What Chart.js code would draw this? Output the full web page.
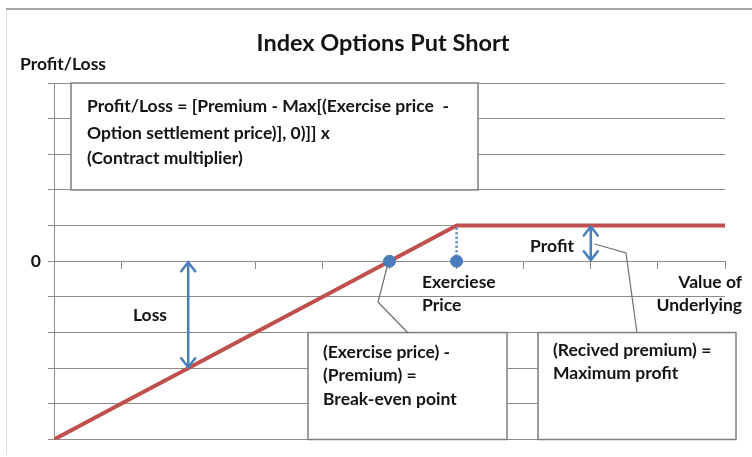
<!DOCTYPE html>
<html>
<head>
<meta charset="utf-8">
<script src="https://cdn.jsdelivr.net/npm/chart.js@4.4.1/dist/chart.umd.min.js"></script>
<style>
  html, body { margin: 0; padding: 0; background: #fff; }
  #wrap { width: 752px; height: 457px; }
</style>
</head>
<body>
<div id="wrap"><canvas id="putShort" width="752" height="457"></canvas></div>
<script>
// Données du graphique
const underlying = [0, 1, 2, 3, 4, 5, 6, 7, 8, 9, 10];
const payoff = [-5, -4, -3, -2, -1, 0, 1, 1, 1, 1, 1];
const markerX = [5, 6];
const markerY = [0, 0];
const exerciseLineX = [6, 6];
const exerciseLineY = [0, 1];
const lossArrowX = 2;
const profitArrowX = 8;

const titleText = 'Index Options Put Short';
const yTitleText = 'Profit/Loss';
const formulaLines = ['Profit/Loss = [Premium - Max[(Exercise price  -', 'Option settlement price)], 0)]] x', '(Contract multiplier)'];
const breakEvenLines = ['(Exercise price) -', '(Premium) =', 'Break-even point'];
const maxProfitLines = ['(Recived premium) =', 'Maximum profit'];

const RED = '#c0504d';
const BLUE = '#4a7ebb';
const GRID = '#8c8c8c';
const TXT = '#141414';
const FONT = 'Lato, "Open Sans", sans-serif';
const FS = 17.5;

function text(ctx, str, x, y, size, align) {
    ctx.save();
    ctx.font = 'bold ' + size + 'px ' + FONT;
    ctx.fillStyle = TXT;
    ctx.textAlign = align || 'left';
    ctx.textBaseline = 'middle';
    ctx.fillText(str, x, y);
    ctx.restore();
}

function box(ctx, x1, y1, x2, y2) {
    ctx.save();
    ctx.fillStyle = '#fff';
    ctx.fillRect(x1, y1, x2 - x1, y2 - y1);
    ctx.strokeStyle = '#7f7f7f';
    ctx.lineWidth = 1.5;
    ctx.strokeRect(x1, y1, x2 - x1, y2 - y1);
    ctx.restore();
}

function arrow(ctx, x, ya, yb) {
    const top = Math.min(ya, yb), bot = Math.max(ya, yb);
    ctx.save();
    ctx.strokeStyle = BLUE;
    ctx.lineWidth = 2.5;
    ctx.lineCap = 'round';
    ctx.beginPath();
    ctx.moveTo(x, top + 1);
    ctx.lineTo(x, bot - 1);
    ctx.moveTo(x - 7, top + 10);
    ctx.lineTo(x, top + 1);
    ctx.lineTo(x + 7, top + 10);
    ctx.moveTo(x - 7, bot - 10);
    ctx.lineTo(x, bot - 1);
    ctx.lineTo(x + 7, bot - 10);
    ctx.stroke();
    ctx.restore();
}

function polyline(ctx, pts) {
    ctx.save();
    ctx.strokeStyle = '#6f6f6f';
    ctx.lineWidth = 1.2;
    ctx.beginPath();
    ctx.moveTo(pts[0][0], pts[0][1]);
    for (let i = 1; i < pts.length; i++) ctx.lineTo(pts[i][0], pts[i][1]);
    ctx.stroke();
    ctx.restore();
}

const decorations = {
    id: 'decorations',
    beforeDraw(chart) {
        const ctx = chart.ctx;
        ctx.save();
        ctx.fillStyle = '#fff';
        ctx.fillRect(0, 0, chart.width, chart.height);
        ctx.strokeStyle = '#dadada';
        ctx.lineWidth = 1;
        ctx.beginPath();
        ctx.moveTo(6.5, 9);
        ctx.lineTo(6.5, 455);
        ctx.stroke();
        ctx.strokeStyle = '#a6a6a6';
        ctx.lineWidth = 2;
        ctx.beginPath();
        ctx.moveTo(6, 9);
        ctx.lineTo(752, 9);
        ctx.stroke();
        ctx.restore();
    },
    beforeDatasetsDraw(chart) {
        const ctx = chart.ctx;
        const ys = chart.scales.y;
        // encadrés
        box(ctx, 71, ys.getPixelForValue(5), 478, ys.getPixelForValue(2));
        box(ctx, 308, ys.getPixelForValue(-2), 507, ys.getPixelForValue(-5));
        box(ctx, 538, ys.getPixelForValue(-2), 736, ys.getPixelForValue(-5));
    },
    afterDatasetsDraw(chart) {
        const ctx = chart.ctx;
        const xs = chart.scales.x, ys = chart.scales.y;
        const y0 = ys.getPixelForValue(0);

        text(ctx, titleText, 383, 43, 23.5, 'center');
        text(ctx, yTitleText, 20, 64, FS);

        formulaLines.forEach((l, i) => text(ctx, l, 87, [106, 133, 158][i], FS));
        breakEvenLines.forEach((l, i) => text(ctx, l, 323, 352 + i * 23.5, FS));
        maxProfitLines.forEach((l, i) => text(ctx, l, 553, 350 + i * 23.5, FS));

        // flèches perte / profit
        const lx = xs.getPixelForValue(lossArrowX);
        arrow(ctx, lx, y0, ys.getPixelForValue(payoff[lossArrowX]));
        const px = xs.getPixelForValue(profitArrowX);
        arrow(ctx, px, y0, ys.getPixelForValue(payoff[profitArrowX]));
        text(ctx, 'Loss', 150, 315, FS, 'center');
        text(ctx, 'Profit', 552, 246, FS, 'center');

        text(ctx, 'Exerciese', 422, 282, FS);
        text(ctx, 'Price', 422, 305, FS);
        text(ctx, 'Value of', 742, 282, FS, 'right');
        text(ctx, 'Underlying', 742, 305, FS, 'right');

        // lignes de rappel
        const bx = xs.getPixelForValue(markerX[0]);
        polyline(ctx, [[bx - 2, y0 + 4], [378, 302], [408, 333]]);
        polyline(ctx, [[px + 4, 244], [626, 253], [637, 333]]);
    }
};

new Chart(document.getElementById('putShort'), {
    type: 'line',
    data: {
        datasets: [
            {
                label: 'Payoff',
                data: underlying.map((x, i) => ({ x: x, y: payoff[i] })),
                borderColor: RED,
                borderWidth: 4,
                pointRadius: 0,
                tension: 0,
                order: 3
            },
            {
                label: 'Exercise',
                data: exerciseLineX.map((x, i) => ({ x: x, y: exerciseLineY[i] })),
                borderColor: BLUE,
                borderWidth: 2.5,
                borderDash: [2, 2.5],
                pointRadius: 0,
                order: 2
            },
            {
                label: 'Markers',
                data: markerX.map((x, i) => ({ x: x, y: markerY[i] })),
                showLine: false,
                pointRadius: 6,
                pointBackgroundColor: BLUE,
                pointBorderColor: BLUE,
                order: 1
            }
        ]
    },
    options: {
        responsive: false,
        animation: false,
        devicePixelRatio: 1,
        layout: { padding: { left: 0, top: 83, right: 27, bottom: 17 } },
        plugins: {
            legend: { display: false },
            tooltip: { enabled: false }
        },
        scales: {
            x: {
                type: 'linear',
                min: 0,
                max: 10,
                position: { y: 0 },
                afterFit: (s) => { s.height = 0; },
                ticks: { stepSize: 1, callback: () => '' },
                grid: { drawOnChartArea: false, drawTicks: true, tickLength: 7, color: GRID },
                border: { color: GRID }
            },
            y: {
                min: -5,
                max: 5,
                afterFit: (s) => { s.width = 54; },
                ticks: {
                    stepSize: 1,
                    padding: 7,
                    color: TXT,
                    font: { family: FONT, weight: 'bold', size: FS },
                    callback: (v) => (v === 0 ? '0' : '')
                },
                grid: { color: GRID, tickLength: 6 },
                border: { color: GRID }
            }
        }
    },
    plugins: [decorations]
});
</script>
</body>
</html>
